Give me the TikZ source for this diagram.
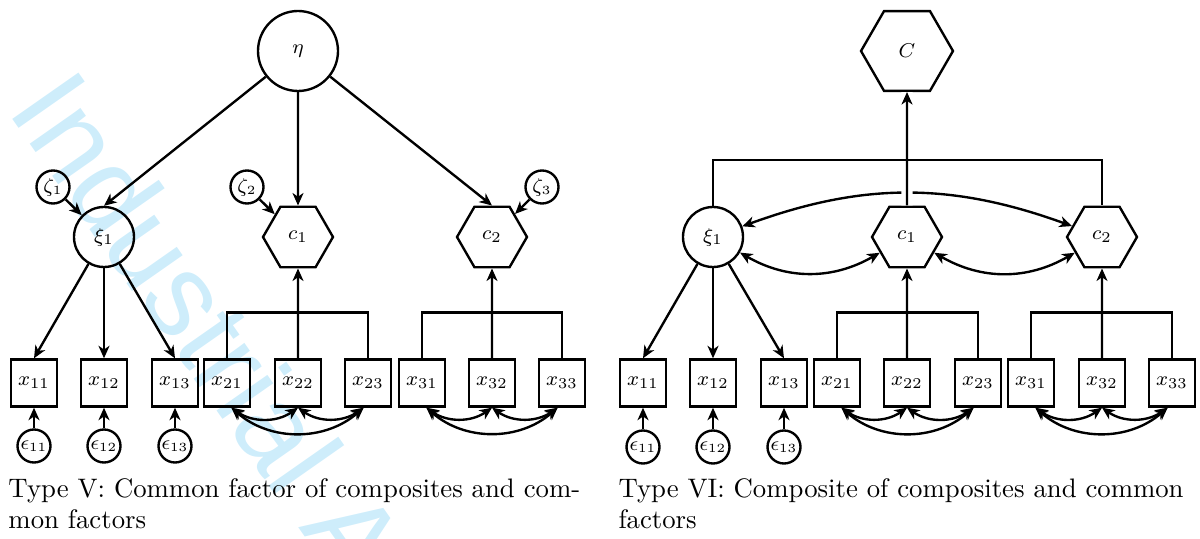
\documentclass[tikz,border=0pt]{standalone}
\usepackage{fontspec}
\newfontfamily\wmfont{Liberation Sans}
\usetikzlibrary{shapes.geometric,arrows.meta}
\definecolor{wmblue}{RGB}{206,237,251}

\begin{document}
\begin{tikzpicture}[x=0.4pt,y=0.4pt,
  every node/.style={inner sep=0pt},
  lw/.style={line width=0.95pt},
  lbl/.style={font=\fontsize{8.2}{10}\selectfont},
  latent/.style={circle,draw,lw,lbl},
  errnode/.style={circle,draw,lw,minimum size=13.2pt,font=\fontsize{7.8}{9}\selectfont},
  comp/.style={regular polygon,regular polygon sides=6,draw,lw,minimum size=28pt,lbl},
  obs/.style={rectangle,draw,lw,minimum width=18.4pt,minimum height=18.8pt,lbl},
  arr/.style={lw,-{Stealth[length=5pt,width=4.4pt,inset=1.5pt]}},
  dbl/.style={lw,{Stealth[length=5pt,width=4.4pt,inset=1.5pt]}-{Stealth[length=5pt,width=4.4pt,inset=1.5pt]}},
  wire/.style={lw},
  captext/.style={anchor=base west,font=\fontsize{10.7}{12.8}\selectfont}]
\useasboundingbox (0,0) rectangle (1200,-539);

% background watermark
\node[anchor=base west,rotate=-55,text=wmblue,font=\wmfont\fontsize{47}{47}\selectfont] (wm) at (6,-110) {Industrial A};

% ---------------- Type V ----------------
\node[latent,minimum size=32pt] (Leta) at (298,-51) {$\eta$};
\node[latent,minimum size=24pt] (Lxi1) at (104,-237) {$\xi_1$};
\node[comp] (Lc1) at (298,-237) {$c_1$};
\node[comp] (Lc2) at (492,-237) {$c_2$};
\node[errnode] (Lz1) at (53,-187) {$\zeta_1$};
\node[errnode] (Lz2) at (247,-187) {$\zeta_2$};
\node[errnode] (Lz3) at (542,-187) {$\zeta_3$};
\foreach \n/\x in {11/34,12/104,13/175,21/227,22/298,23/368,31/422,32/492,33/562}
  \node[obs] (Lx\n) at (\x,-383) {$x_{\n}$};
\foreach \n/\x in {11/34,12/104,13/175}
  \node[errnode] (Le\n) at (\x,-446) {$\epsilon_{\n}$};

\draw[arr] (Leta) -- (Lxi1.north);
\draw[arr] (Leta) -- (Lc1.north);
\draw[arr] (Leta) -- (Lc2.north);
\draw[arr] (Lz1) -- (Lxi1);
\draw[arr] (Lz2) -- (Lc1);
\draw[arr] (Lz3) -- (Lc2);
\foreach \n in {11,12,13} {
  \draw[arr] (Lxi1) -- (Lx\n.north);
  \draw[arr] (Le\n) -- (Lx\n);
}
\draw[wire] (Lx21.north) -- ++(0,46) -| (Lx23.north);
\draw[arr] (Lx22.north) -- (Lc1.south);
\draw[wire] (Lx31.north) -- ++(0,46) -| (Lx33.north);
\draw[arr] (Lx32.north) -- (Lc2.south);
\foreach \a in {2,3} {
  \draw[dbl] (Lx\a1.-80) to[bend right=35] (Lx\a2.-90);
  \draw[dbl] (Lx\a2.-90) to[bend right=35] (Lx\a3.-100);
  \draw[dbl] (Lx\a1.-80) to[bend right=41] (Lx\a3.-100);
}

% ---------------- Type VI ----------------
\node[comp,minimum size=36.8pt] (RC) at (907,-51) {$C$};
\node[latent,minimum size=24pt] (Rxi1) at (713,-237) {$\xi_1$};
\node[comp] (Rc1) at (907,-237) {$c_1$};
\node[comp] (Rc2) at (1102,-237) {$c_2$};
\foreach \n/\x in {11/643,12/713,13/784,21/837,22/907,23/978,31/1031,32/1102,33/1172}
  \node[obs] (Rx\n) at (\x,-383) {$x_{\n}$};
\foreach \n/\x in {11/643,12/713,13/784}
  \node[errnode] (Re\n) at (\x,-447) {$\epsilon_{\n}$};

\foreach \n in {11,12,13} {
  \draw[arr] (Rxi1) -- (Rx\n.north);
  \draw[arr] (Re\n) -- (Rx\n);
}
\draw[wire] (Rx21.north) -- ++(0,46) -| (Rx23.north);
\draw[arr] (Rx22.north) -- (Rc1.south);
\draw[wire] (Rx31.north) -- ++(0,46) -| (Rx33.north);
\draw[arr] (Rx32.north) -- (Rc2.south);
\foreach \a in {2,3} {
  \draw[dbl] (Rx\a1.-80) to[bend right=35] (Rx\a2.-90);
  \draw[dbl] (Rx\a2.-90) to[bend right=35] (Rx\a3.-100);
  \draw[dbl] (Rx\a1.-80) to[bend right=41] (Rx\a3.-100);
}
\draw[dbl] (Rxi1) to[bend left=20] (Rc2);
\draw[dbl] (Rxi1) to[bend right=30] (Rc1);
\draw[dbl] (Rc1) to[bend right=30] (Rc2);
\draw[arr,preaction={draw=white,line width=4.5pt,-}] (Rc1.north) -- (RC.south);
\draw[wire] (Rxi1.north) -- ++(0,46) -| (Rc2.north);

% ---------------- captions ----------------
\node[captext] (capL1) at (8,-497) {Type V: Common factor of composites and com-};
\node[captext] (capL2) at (8,-528) {mon factors};
\node[captext] (capR1) at (618,-497) {Type VI: Composite of composites and common};
\node[captext] (capR2) at (618,-528) {factors};
\end{tikzpicture}
\end{document}
